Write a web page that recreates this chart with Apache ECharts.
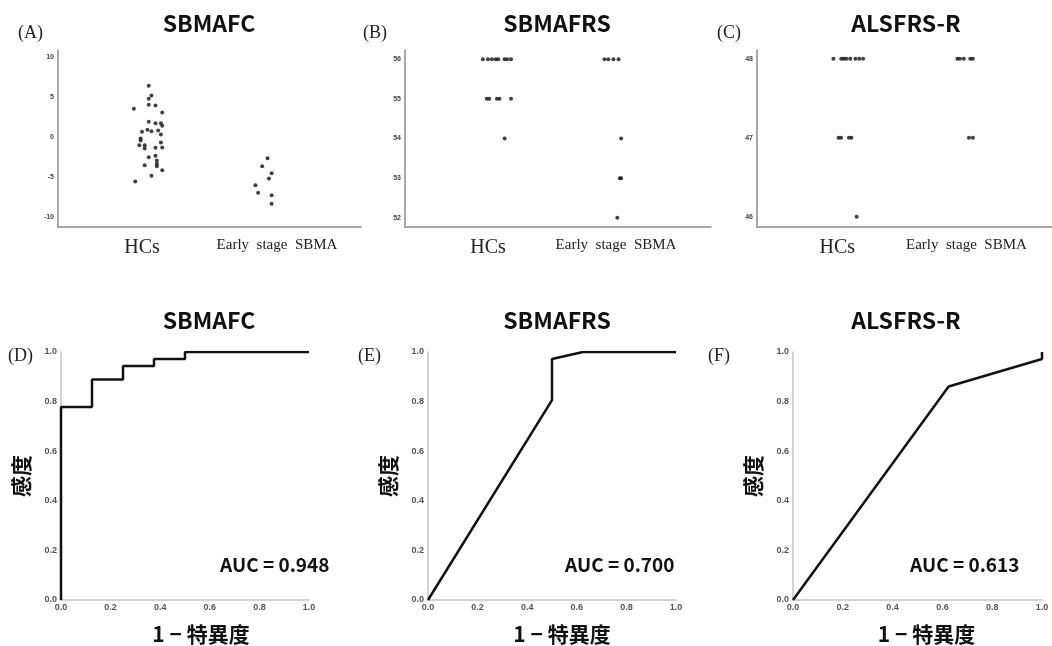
<!DOCTYPE html>
<html>
<head>
<meta charset="utf-8">
<script src="https://cdn.jsdelivr.net/npm/echarts@6/dist/echarts.min.js"></script>
<style>
  html, body { margin: 0; padding: 0; background: #fff; }
  #chart { width: 1052px; height: 646px; }
</style>
</head>
<body>
<div id="chart"></div>
<script>
// group names (x axis of the dot plots)
const groups = ['HCs', 'Early  stage  SBMA'];

// dot plots: [jittered group position, score]
const fcHC = [[1.05, 6.44], [1.07, 5.22], [1.05, 4.81], [0.94, 3.56], [1.05, 4.06], [1.10, 3.97], [1.15, 3.10],
  [1.05, 1.94], [1.10, 1.76], [1.14, 1.76], [1.15, 1.44], [1.04, 0.94], [1.00, 0.69], [1.07, 0.76], [1.12, 0.85],
  [1.14, 0.35], [0.99, -0.15], [0.99, -0.40], [1.14, -0.65], [0.98, -0.99], [1.02, -0.99], [1.02, -1.40],
  [1.10, -1.31], [1.15, -1.27], [1.05, -2.49], [1.10, -2.31], [1.11, -2.90], [1.11, -3.31], [1.11, -3.61],
  [1.02, -3.49], [1.15, -4.11], [1.07, -4.81], [0.95, -5.52]];
const fcSBMA = [[1.93, -2.61], [1.89, -3.61], [1.96, -4.49], [1.94, -5.15], [1.84, -5.99], [1.86, -6.94], [1.96, -7.24], [1.96, -8.31]];

const frsHC = [[0.96, 56], [1.00, 56], [1.03, 56], [1.06, 56], [1.08, 56], [1.13, 56], [1.15, 56], [1.18, 56],
  [0.99, 55], [1.01, 55], [1.07, 55], [1.09, 55], [1.18, 55], [1.13, 54]];
const frsSBMA = [[1.91, 56], [1.94, 56], [1.98, 56], [2.02, 56], [2.04, 54], [2.03, 53], [2.04, 53], [2.01, 52]];

const alsHC = [[0.97, 48], [1.03, 48], [1.05, 48], [1.07, 48], [1.10, 48], [1.14, 48], [1.17, 48], [1.20, 48],
  [1.01, 47], [1.03, 47], [1.09, 47], [1.11, 47], [1.15, 46]];
const alsSBMA = [[1.93, 48], [1.95, 48], [1.98, 48], [2.03, 48], [2.05, 48], [2.02, 47], [2.05, 47]];

// y tick labels of the dot plots
const fcTicks = [-10, -5, 0, 5, 10];
const frsTicks = [52, 53, 54, 55, 56];
const alsTicks = [46, 47, 48];

// ROC curves: [1 - specificity, sensitivity]
const rocFC = [[0, 0], [0, 0.778], [0.125, 0.778], [0.125, 0.889], [0.25, 0.889], [0.25, 0.944],
  [0.375, 0.944], [0.375, 0.972], [0.5, 0.972], [0.5, 1], [1, 1]];
const rocFRS = [[0, 0], [0.5, 0.806], [0.5, 0.972], [0.625, 1], [1, 1]];
const rocALS = [[0, 0], [0.625, 0.861], [1, 0.972], [1, 1]];

const titles = ['SBMAFC', 'SBMAFRS', 'ALSFRS-R'];
const panelTags = ['(A)', '(B)', '(C)', '(D)', '(E)', '(F)'];
const aucTexts = ['AUC = 0.948', 'AUC = 0.700', 'AUC = 0.613'];

const serif = '"Liberation Serif", "Times New Roman", serif';
const gothic = '"Noto Sans CJK JP", "Noto Sans", sans-serif';

let chart = echarts.init(document.getElementById('chart'), null, { renderer: 'canvas' });

// grid boxes, in px
const grids = [
  { left: 58, top: 50, width: 303, height: 177 },
  { left: 405, top: 50, width: 306, height: 177 },
  { left: 757, top: 50, width: 295, height: 177 },
  { left: 61, top: 352, width: 248, height: 251 },
  { left: 428, top: 352, width: 248, height: 251 },
  { left: 793, top: 352, width: 249, height: 251 }
];

const dotX = (min, max) => ({
  type: 'value', min: min, max: max,
  axisLine: { show: true, onZero: false, lineStyle: { color: '#8c8c8c', width: 1.5 } },
  axisTick: { show: false },
  splitLine: { show: false },
  axisLabel: {
    customValues: [1, 2],
    margin: 11,
    verticalAlign: 'top',
    formatter: v => v === 1 ? '{a|' + groups[0] + '}' : '{b|' + groups[1] + '}',
    rich: {
      a: { fontFamily: serif, fontSize: 20, color: '#222' },
      b: { fontFamily: serif, fontSize: 15, color: '#222' }
    }
  }
});
const dotY = (min, max, ticks) => ({
  type: 'value', min: min, max: max,
  axisLine: { show: true, onZero: false, lineStyle: { color: '#8c8c8c', width: 1.5 } },
  axisTick: { show: false },
  splitLine: { show: false },
  axisLabel: { customValues: ticks, margin: 4, fontSize: 7, fontWeight: 'bold', color: '#444', fontFamily: 'Liberation Sans' }
});
const rocAxis = (isX) => ({
  type: 'value', min: 0, max: 1, interval: 0.2,
  axisLine: { show: true, onZero: false, lineStyle: { color: '#c4c4c4', width: 1.5 } },
  axisTick: { show: false },
  splitLine: { show: false },
  axisLabel: { margin: isX ? 3 : 4, fontSize: 9, fontWeight: 'bold', color: '#555', fontFamily: 'Liberation Sans',
    formatter: v => v.toFixed(1) },
  nameLocation: 'middle',
  nameTextStyle: { fontFamily: gothic, fontWeight: 'bold', fontSize: 21, color: '#111' }
});

let xAxes = [dotX(0.378, 2.622), dotX(0.352, 2.742), dotX(0.378, 2.663)];
let yAxes = [dotY(-11.21, 10.91, fcTicks), dotY(51.77, 56.23, frsTicks), dotY(45.87, 48.11, alsTicks)];
const xNameShift = [32, 20, 18];
for (let i = 0; i < 3; i++) {
  let xa = rocAxis(true);
  xa.gridIndex = i + 3;
  xa.name = '1 − 特異度';
  xa.nameGap = 24;
  xa.nameTextStyle = Object.assign({}, xa.nameTextStyle, { padding: [0, 0, 0, xNameShift[i]] });
  xAxes.push(xa);
  let ya = rocAxis(false);
  ya.gridIndex = i + 3;
  ya.name = '感度';
  ya.nameRotate = 90;
  ya.nameGap = 29;
  yAxes.push(ya);
}
xAxes.forEach((a, i) => { if (i < 3) a.gridIndex = i; });
yAxes.forEach((a, i) => { if (i < 3) a.gridIndex = i; });

const dotSeries = (data, idx) => ({
  type: 'scatter', data: data, xAxisIndex: idx, yAxisIndex: idx,
  symbolSize: 4, itemStyle: { color: '#111' }, silent: true
});
const rocSeries = (data, idx) => ({
  type: 'line', data: data, xAxisIndex: idx, yAxisIndex: idx,
  showSymbol: false, lineStyle: { color: '#111', width: 2.5 }, silent: true
});

// title centres, px
const titlePos = [[209, 12], [557, 12], [906, 12], [209, 309], [557, 309], [906, 309]];
const tagPos = [[18, 33], [363, 33], [717, 33], [8, 356], [358, 356], [708, 356]];
const aucPos = [[220, 565], [565, 565], [910, 565]];

let graphics = [];
panelTags.forEach((t, i) => {
  graphics.push({ type: 'text', x: tagPos[i][0], y: tagPos[i][1],
    style: { text: t, font: '18px ' + serif, fill: '#222', align: 'left', verticalAlign: 'middle',
      textAlign: 'left', textVerticalAlign: 'middle' } });
});
aucTexts.forEach((t, i) => {
  graphics.push({ type: 'text', x: aucPos[i][0], y: aucPos[i][1],
    style: { text: t, font: 'bold 19px ' + gothic, fill: '#111', align: 'left', verticalAlign: 'middle',
      textAlign: 'left', textVerticalAlign: 'middle' } });
});

let option = {
  animation: false,
  backgroundColor: '#fff',
  title: titlePos.map((p, i) => ({
    text: titles[i % 3], left: p[0], top: p[1], textAlign: 'center', padding: 0,
    textStyle: { fontFamily: gothic, fontWeight: 'bold', fontSize: 23, color: '#111' }
  })),
  grid: grids,
  xAxis: xAxes,
  yAxis: yAxes,
  series: [
    dotSeries(fcHC, 0), dotSeries(fcSBMA, 0),
    dotSeries(frsHC, 1), dotSeries(frsSBMA, 1),
    dotSeries(alsHC, 2), dotSeries(alsSBMA, 2),
    rocSeries(rocFC, 3), rocSeries(rocFRS, 4), rocSeries(rocALS, 5)
  ],
  graphic: graphics
};

chart.setOption(option);
</script>
</body>
</html>
